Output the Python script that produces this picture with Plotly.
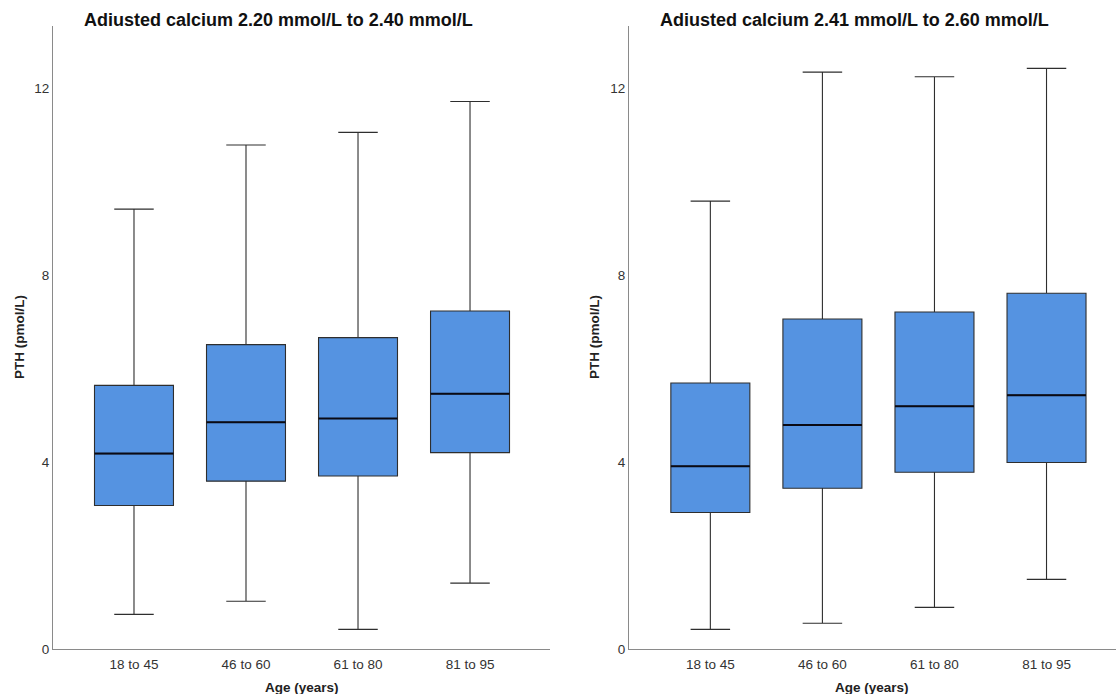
import plotly.graph_objects as go

categories = ["18 to 45", "46 to 60", "61 to 80", "81 to 95"]

# Left panel: Adjusted calcium 2.20-2.40 mmol/L
left_lower = [0.74, 1.02, 0.42, 1.41]
left_q1 = [3.07, 3.59, 3.70, 4.20]
left_median = [4.18, 4.85, 4.93, 5.46]
left_q3 = [5.64, 6.51, 6.66, 7.23]
left_upper = [9.41, 10.78, 11.05, 11.71]

# Right panel: Adjusted calcium 2.41-2.60 mmol/L
right_lower = [0.42, 0.55, 0.89, 1.49]
right_q1 = [2.92, 3.44, 3.78, 3.99]
right_median = [3.91, 4.79, 5.19, 5.43]
right_q3 = [5.69, 7.06, 7.21, 7.61]
right_upper = [9.58, 12.34, 12.24, 12.42]

titles = ["Adiusted calcium 2.20 mmol/L to 2.40 mmol/L",
          "Adiusted calcium 2.41 mmol/L to 2.60 mmol/L"]
y_ticks = [0, 4, 8, 12]

W, H = 1116, 694
FILL = "#5593E1"
LINE = "#2e2e2e"
FONT = "Liberation Sans, Arial, sans-serif"

fig = go.Figure()

def add_box(xa, ya, lo, q1, med, q3, up):
    fig.add_trace(go.Box(
        x=categories, lowerfence=lo, q1=q1, median=med, q3=q3, upperfence=up,
        xaxis=xa, yaxis=ya, width=0.705, whiskerwidth=0.5,
        fillcolor=FILL, line=dict(color=LINE, width=1.1),
        boxpoints=False, showlegend=False, hoverinfo="skip"))
    # thicker black median line (zero-height box at the median)
    fig.add_trace(go.Box(
        x=categories, lowerfence=med, q1=med, median=med, q3=med, upperfence=med,
        xaxis=xa, yaxis=ya, width=0.705, whiskerwidth=0,
        fillcolor="rgba(0,0,0,0)", line=dict(color="#0a0a14", width=2),
        boxpoints=False, showlegend=False, hoverinfo="skip"))

add_box("x", "y", left_lower, left_q1, left_median, left_q3, left_upper)
add_box("x2", "y2", right_lower, right_q1, right_median, right_q3, right_upper)

ytop, ybot = 26, 649
ydom = [1 - ybot / H, 1 - ytop / H]
yr = [0, (ybot - ytop) / 46.75]

axis_common = dict(showgrid=False, zeroline=False, showline=True,
                   linecolor="#8a8a8a", linewidth=1, ticks="",
                   tickfont=dict(family=FONT, size=13.5, color="#333333"))

fig.update_layout(
    width=W, height=H + 7,
    margin=dict(l=0, r=0, t=0, b=7),
    paper_bgcolor="white", plot_bgcolor="white",
    boxmode="overlay",
    xaxis=dict(domain=[53 / W, 550 / W], anchor="y", type="category",
               range=[-0.723, 3.714], categoryarray=categories,
               ticklabelstandoff=3, **axis_common),
    yaxis=dict(domain=ydom, anchor="x", range=yr, tickvals=y_ticks, **axis_common),
    xaxis2=dict(domain=[629 / W, 1.0], anchor="y2", type="category",
                range=[-0.726, 3.62], categoryarray=categories,
                ticklabelstandoff=3, **axis_common),
    yaxis2=dict(domain=ydom, anchor="x2", range=yr, tickvals=y_ticks, **axis_common),
)

ann = []
# panel titles
for txt, cx, cy in [(titles[0], 278, 20), (titles[1], 854, 20)]:
    ann.append(dict(text="<b>%s</b>" % txt, x=cx / W, y=1 - cy / H, xref="paper", yref="paper",
                    showarrow=False, xanchor="center", yanchor="middle",
                    font=dict(family=FONT, size=18, color="#111111")))
# x axis titles
for cx in [(53 + 550) / 2, 872]:
    ann.append(dict(text="<b>Age (years)</b>", x=cx / W, y=1 - 687 / H, xref="paper", yref="paper",
                    showarrow=False, xanchor="center", yanchor="middle",
                    font=dict(family=FONT, size=13.5, color="#222222")))
# y axis titles
for cx in [19, 594]:
    ann.append(dict(text="<b>PTH (pmol/L)</b>", x=cx / W, y=1 - 337 / H, xref="paper", yref="paper",
                    showarrow=False, xanchor="center", yanchor="middle", textangle=-90,
                    font=dict(family=FONT, size=13.5, color="#222222")))
fig.update_layout(annotations=ann)

fig.write_html("out.html")
